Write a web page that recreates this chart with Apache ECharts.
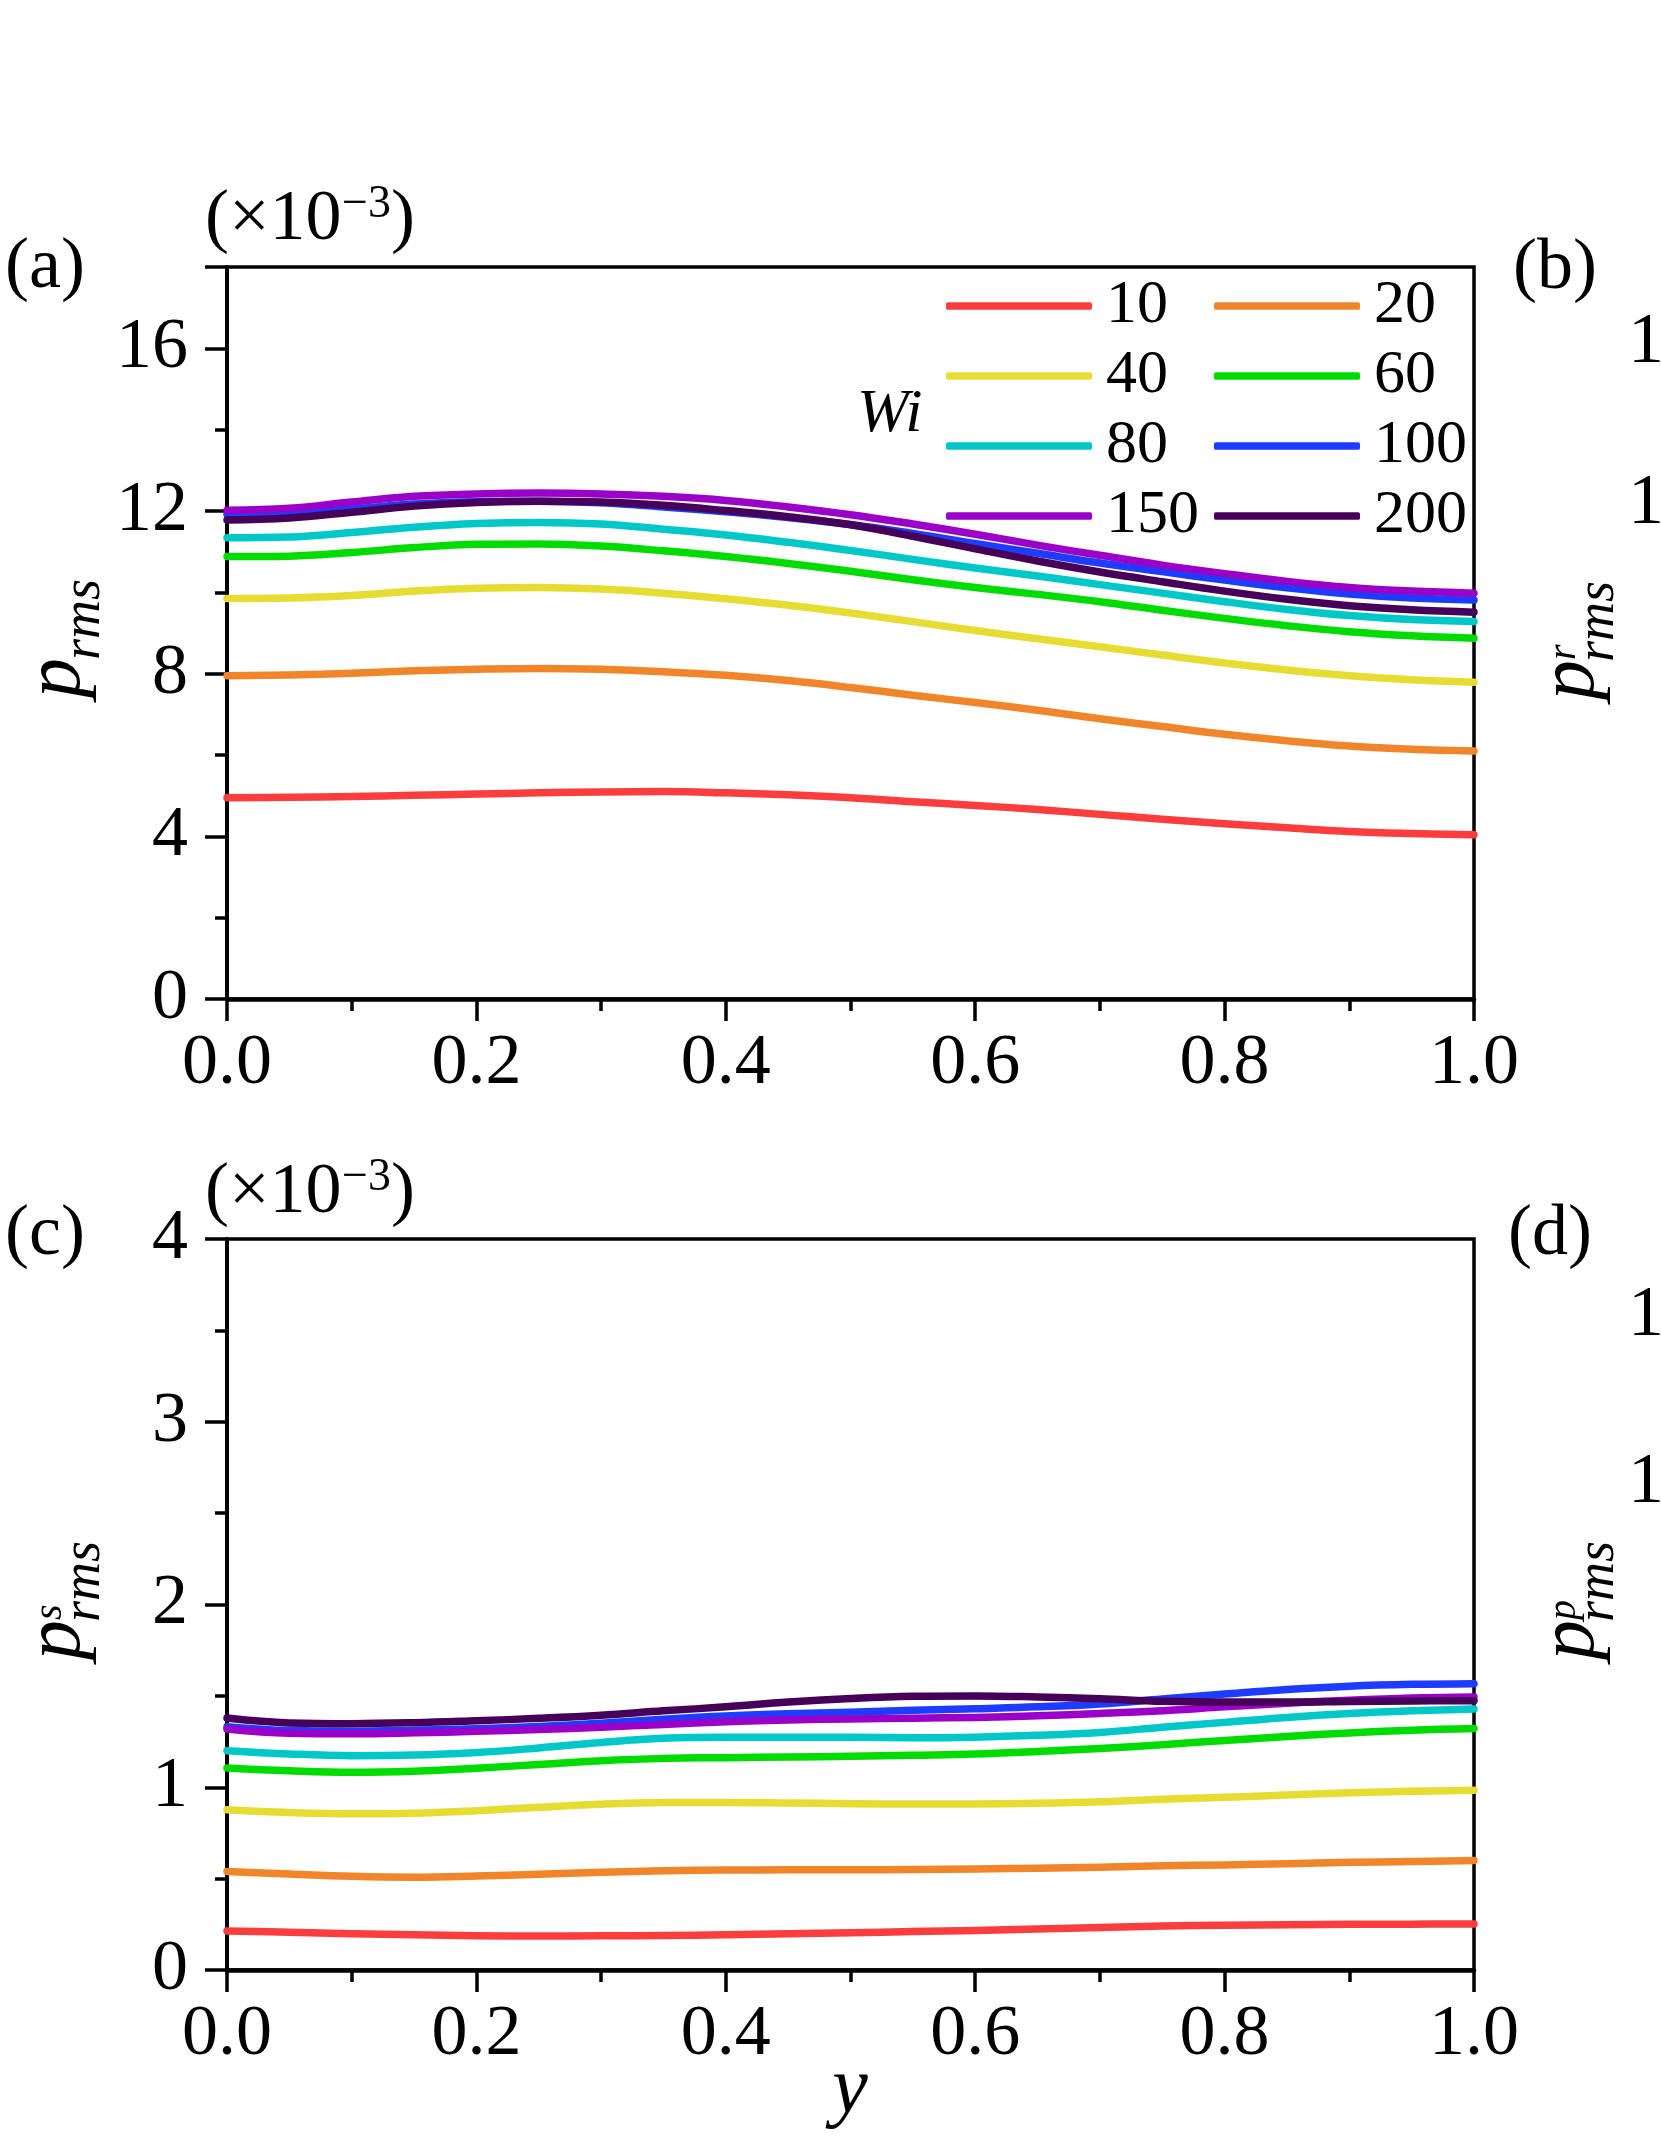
<!DOCTYPE html>
<html>
<head>
<meta charset="UTF-8">
<script src="https://cdn.jsdelivr.net/npm/echarts/dist/echarts.min.js"></script>
<style>
  html, body { margin: 0; padding: 0; background: #fff; }
  #main { width: 1661px; height: 2149px; }
</style>
</head>
<body>
<div id="main"></div>
<script>
// y positions (x axis)
var ys = [0, 0.05, 0.1, 0.15, 0.2, 0.25, 0.3, 0.35, 0.4, 0.45, 0.5,
          0.55, 0.6, 0.65, 0.7, 0.75, 0.8, 0.85, 0.9, 0.95, 1.0];
var wiNames = ['10', '20', '40', '60', '80', '100', '150', '200'];
var wiColors = ['#fc3d3d', '#f0852a', '#e6dc32', '#00dc00', '#00c8c8', '#1e3cff', '#9b00c8', '#46005a'];

// (a) p_rms  (x10^-3)
var a10  = [4.95, 4.96, 4.98, 5.01, 5.04, 5.07, 5.09, 5.10, 5.07, 5.02, 4.95, 4.85, 4.76, 4.66, 4.54, 4.42, 4.31, 4.21, 4.12, 4.07, 4.04];
var a20  = [7.95, 7.97, 8.01, 8.07, 8.11, 8.13, 8.11, 8.05, 7.96, 7.83, 7.66, 7.47, 7.29, 7.10, 6.89, 6.70, 6.51, 6.35, 6.22, 6.14, 6.10];
var a40  = [9.85, 9.86, 9.92, 10.03, 10.10, 10.12, 10.08, 9.98, 9.84, 9.68, 9.49, 9.28, 9.06, 8.86, 8.66, 8.46, 8.26, 8.09, 7.95, 7.85, 7.79];
var a60  = [10.88, 10.89, 10.98, 11.10, 11.18, 11.19, 11.14, 11.02, 10.88, 10.71, 10.52, 10.31, 10.12, 9.95, 9.77, 9.56, 9.36, 9.18, 9.03, 8.93, 8.87];
var a80  = [11.34, 11.36, 11.47, 11.60, 11.69, 11.72, 11.68, 11.55, 11.41, 11.23, 11.03, 10.81, 10.60, 10.40, 10.19, 9.98, 9.77, 9.58, 9.43, 9.33, 9.28];
var a100 = [11.92, 11.96, 12.05, 12.17, 12.23, 12.24, 12.20, 12.10, 11.98, 11.84, 11.67, 11.45, 11.20, 10.96, 10.72, 10.51, 10.30, 10.11, 9.96, 9.86, 9.81];
var a150 = [12.02, 12.07, 12.22, 12.36, 12.42, 12.44, 12.42, 12.36, 12.26, 12.10, 11.91, 11.68, 11.43, 11.16, 10.91, 10.67, 10.46, 10.27, 10.12, 10.03, 9.98];
var a200 = [11.78, 11.83, 11.97, 12.12, 12.21, 12.24, 12.22, 12.14, 12.01, 11.86, 11.66, 11.38, 11.07, 10.77, 10.50, 10.26, 10.03, 9.83, 9.67, 9.57, 9.51];

// (c) p^s_rms  (x10^-3)
var c10  = [0.214, 0.207, 0.199, 0.193, 0.188, 0.186, 0.187, 0.189, 0.193, 0.198, 0.204, 0.210, 0.216, 0.224, 0.232, 0.241, 0.245, 0.248, 0.250, 0.251, 0.252];
var c20  = [0.539, 0.525, 0.513, 0.508, 0.514, 0.524, 0.535, 0.543, 0.547, 0.548, 0.548, 0.550, 0.553, 0.557, 0.562, 0.570, 0.575, 0.582, 0.589, 0.594, 0.599];
var c40  = [0.877, 0.862, 0.855, 0.858, 0.872, 0.890, 0.907, 0.916, 0.917, 0.914, 0.910, 0.908, 0.909, 0.912, 0.920, 0.935, 0.945, 0.957, 0.970, 0.978, 0.983];
var c60  = [1.105, 1.090, 1.082, 1.088, 1.104, 1.125, 1.145, 1.158, 1.162, 1.166, 1.169, 1.175, 1.182, 1.196, 1.212, 1.233, 1.256, 1.278, 1.297, 1.312, 1.321];
var c80  = [1.200, 1.182, 1.173, 1.176, 1.190, 1.215, 1.245, 1.268, 1.274, 1.274, 1.273, 1.271, 1.274, 1.284, 1.300, 1.328, 1.355, 1.382, 1.403, 1.418, 1.428];
var c100 = [1.331, 1.310, 1.307, 1.312, 1.320, 1.333, 1.350, 1.372, 1.390, 1.402, 1.411, 1.421, 1.430, 1.440, 1.456, 1.483, 1.510, 1.535, 1.553, 1.563, 1.567];
var c150 = [1.319, 1.296, 1.293, 1.298, 1.306, 1.316, 1.328, 1.344, 1.358, 1.368, 1.374, 1.378, 1.382, 1.391, 1.404, 1.419, 1.440, 1.460, 1.476, 1.488, 1.494];
var c200 = [1.379, 1.352, 1.348, 1.353, 1.364, 1.377, 1.394, 1.418, 1.440, 1.466, 1.486, 1.498, 1.500, 1.494, 1.484, 1.470, 1.466, 1.466, 1.469, 1.472, 1.474];

var yTicksA = [0, 4, 8, 12, 16];
var yTicksC = [0, 1, 2, 3, 4];

var FONT = '"Liberation Serif", "Times New Roman", serif';
var panelA = [a10, a20, a40, a60, a80, a100, a150, a200];
var panelC = [c10, c20, c40, c60, c80, c100, c150, c200];

function pairs(vals) {
  var out = [];
  for (var i = 0; i < ys.length; i++) out.push([ys[i], vals[i]]);
  return out;
}

var series = [];
[panelA, panelC].forEach(function (panel, g) {
  panel.forEach(function (vals, i) {
    series.push({
      name: wiNames[i],
      type: 'line',
      xAxisIndex: g,
      yAxisIndex: g,
      data: pairs(vals),
      smooth: 0.4,
      symbol: 'none',
      clip: false,
      color: wiColors[i],
      lineStyle: { width: 7.5, color: wiColors[i], cap: 'round', join: 'round' }
    });
  });
});

function xAxisOpt(g) {
  return {
    type: 'value', gridIndex: g, min: 0, max: 1, interval: 0.2,
    axisLine: { show: true, lineStyle: { color: '#000', width: 4.5 } },
    axisTick: { show: true, inside: false, length: 22, lineStyle: { color: '#000', width: 3.5 } },
    minorTick: { show: true, splitNumber: 2, length: 12, lineStyle: { color: '#000', width: 3.5 } },
    splitLine: { show: false },
    axisLabel: {
      margin: 29, fontFamily: FONT, fontSize: 72, color: '#000',
      formatter: function (v) { return v.toFixed(1); }
    }
  };
}

function yAxisOpt(g, max, interval, ticks) {
  return {
    type: 'value', gridIndex: g, min: 0, max: max, interval: interval,
    axisLine: { show: true, lineStyle: { color: '#000', width: 4 } },
    axisTick: { show: true, inside: false, length: 22, lineStyle: { color: '#000', width: 3.5 } },
    minorTick: { show: true, splitNumber: 2, length: 12, lineStyle: { color: '#000', width: 3.5 } },
    splitLine: { show: false },
    axisLabel: {
      margin: 39, fontFamily: FONT, fontSize: 72, color: '#000', padding: [0, 0, 12, 0],
      formatter: function (v) { return ticks.indexOf(v) >= 0 ? String(v) : ''; }
    }
  };
}

// text placed by its baseline
function txt(x, baseline, s, size, italic, align) {
  return {
    type: 'text', x: x, y: baseline - 0.3375 * size, z: 10,
    style: {
      text: s, font: (italic ? 'italic ' : '') + size + 'px ' + FONT,
      fill: '#000', textAlign: align || 'left', textVerticalAlign: 'middle'
    }
  };
}

// rotated axis title p^sup_rms, baseline at screen x = bx, starting at screen y = startY
function pTitle(bx, startY, sup) {
  var kids = [
    txt(0, 0, 'p', 80, true),
    txt(38, 18, 'rms', 54, true)
  ];
  if (sup) kids.push(txt(40, -21, sup, 40, true));
  return { type: 'group', x: bx, y: startY, rotation: Math.PI / 2, children: kids };
}

function scaleNote(x, baseline) {
  return [
    txt(x, baseline, '(\u00d710', 72),
    txt(x + 137, baseline - 24, '\u22123', 46),
    txt(x + 137 + 49, baseline, ')', 72)
  ];
}

var graphics = [
  txt(5, 292, '(a)', 72),
  txt(1513, 293, '(b)', 72),
  txt(5, 1259, '(c)', 72),
  txt(1508, 1259, '(d)', 72),
  txt(1628, 367, '1', 72),
  txt(1628, 528, '1', 72),
  txt(1628, 1340, '1', 72),
  txt(1628, 1507, '1', 72),
  txt(857, 436, 'Wi', 62, true),
  txt(850, 2118, 'y', 80, true, 'center'),
  pTitle(85, 698, ''),
  pTitle(1599, 700, 'r'),
  pTitle(85, 1660, 's'),
  pTitle(1599, 1660, 'p')
].concat(scaleNote(205, 244)).concat(scaleNote(205, 1217));

function legendOpt(names, left) {
  return {
    data: names, orient: 'vertical', left: left, top: 275, padding: 0,
    itemWidth: 146, itemHeight: 7.5, itemGap: 8, icon: 'roundRect', selectedMode: false,
    textStyle: { fontFamily: FONT, fontSize: 62, lineHeight: 62, color: '#000', padding: [0, 0, 0, 9] }
  };
}

var myChart = echarts.init(document.getElementById('main'), null, { renderer: 'canvas' });
var option = {
  backgroundColor: '#fff',
  animation: false,
  grid: [
    { left: 227, top: 267, width: 1247, height: 732, show: true, borderColor: '#000', borderWidth: 3.5 },
    { left: 227, top: 1239, width: 1247, height: 731, show: true, borderColor: '#000', borderWidth: 3.5 }
  ],
  xAxis: [xAxisOpt(0), xAxisOpt(1)],
  yAxis: [yAxisOpt(0, 18, 4, yTicksA), yAxisOpt(1, 4, 1, yTicksC)],
  legend: [
    legendOpt(['10', '40', '80', '150'], 946),
    legendOpt(['20', '60', '100', '200'], 1214)
  ],
  graphic: graphics,
  series: series
};
myChart.setOption(option);
</script>
</body>
</html>
